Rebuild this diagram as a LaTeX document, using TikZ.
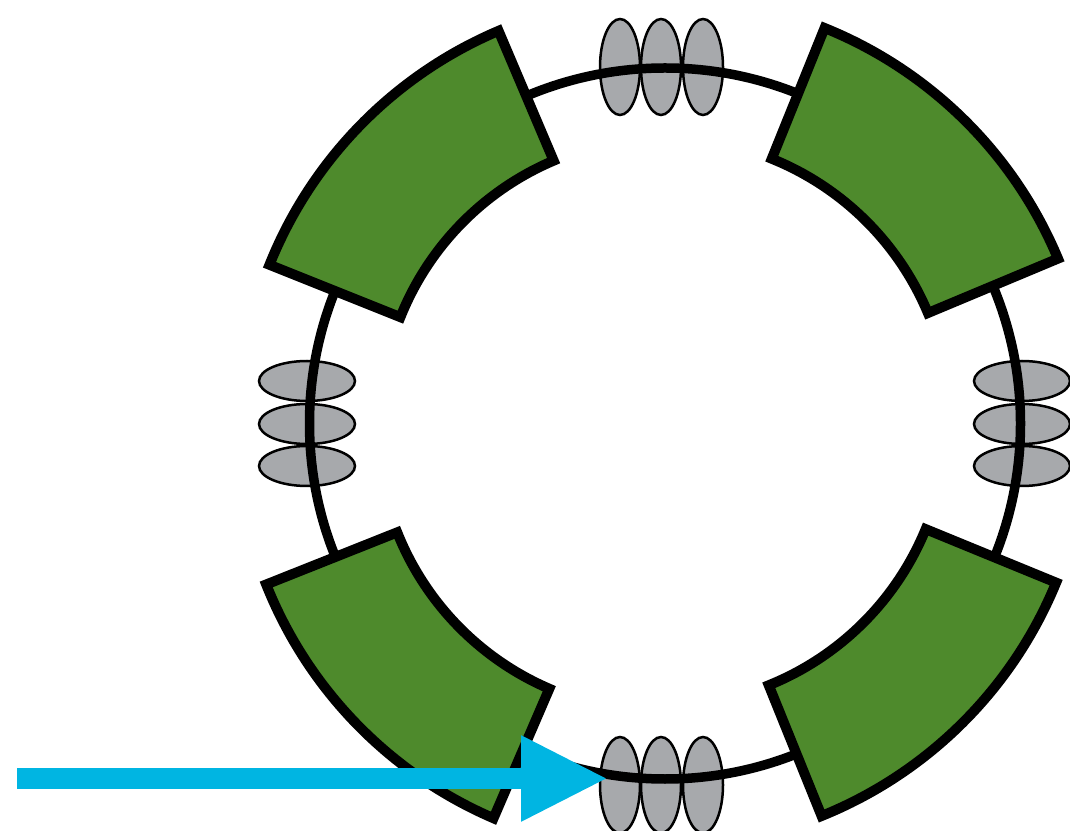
\documentclass[tikz,border=0pt]{standalone}
\usepackage{xcolor}
\usetikzlibrary{shapes.geometric, arrows.meta}
\definecolor{dipolegreen}{HTML}{4E8A2C}
\definecolor{lensgray}{HTML}{A7A9AC}
\definecolor{beamblue}{HTML}{00B5E2}
\begin{document}
\begin{tikzpicture}[
  x=1pt, y=1pt,
  dipole/.style={draw=black, fill=dipolegreen, line width=10pt, miter limit=10},
  lensv/.style={
    ellipse, draw=black, fill=lensgray, inner sep=0pt,
    minimum width=40pt, minimum height=96pt, line width=2.5pt
  },
  lensh/.style={
    ellipse, draw=black, fill=lensgray, inner sep=0pt,
    minimum width=96pt, minimum height=40pt, line width=2.5pt
  },
  ringline/.style={draw=black, line width=9.5pt},
  beam/.style={draw=beamblue, line width=21pt, -{Triangle[length=87pt,width=80pt,fill=beamblue]}}
]
\useasboundingbox (0,0) rectangle (1070,830);

% -- Lenses --------------------------------------------------
\node[lensv] (T1) at (620, 763) {};
\node[lensv] (T2) at (661, 763) {};
\node[lensv] (T3) at (703, 763) {};

\node[lensv] (B1) at (620, 45) {};
\node[lensv] (B2) at (661, 45) {};
\node[lensv] (B3) at (703, 45) {};

\node[lensh] (L1) at (307, 449) {};
\node[lensh] (L2) at (307, 406) {};
\node[lensh] (L3) at (307, 364) {};

\node[lensh] (R1) at (1022, 449) {};
\node[lensh] (R2) at (1022, 406) {};
\node[lensh] (R3) at (1022, 364) {};

% -- Ring ----------------------------------------------------
\draw[ringline] (665, 406.5) circle[radius=355.5];

% -- Dipoles -------------------------------------------------
\draw[dipole, shift={(665,407)}] (22.7:426) arc[start angle=22.7, end angle=68, radius=426]
  -- (68:285) arc[start angle=68, end angle=22.7, radius=285] -- cycle;
\draw[dipole, shift={(665,407)}] (113:426) arc[start angle=113, end angle=158.2, radius=426]
  -- (158.2:285) arc[start angle=158.2, end angle=113, radius=285] -- cycle;
\draw[dipole, shift={(662,403)}] (201.7:426) arc[start angle=201.7, end angle=246.7, radius=426]
  -- (246.7:285) arc[start angle=246.7, end angle=201.7, radius=285] -- cycle;
\draw[dipole, shift={(662,409)}] (292:426) arc[start angle=292, end angle=337.7, radius=426]
  -- (337.7:285) arc[start angle=337.7, end angle=292, radius=285] -- cycle;

% -- Beam ----------------------------------------------------
\coordinate (beamstart) at (17, 51.5);
\coordinate (beamend) at (608, 51.5);
\draw[beam] (beamstart) -- (beamend);

\end{tikzpicture}
\end{document}
